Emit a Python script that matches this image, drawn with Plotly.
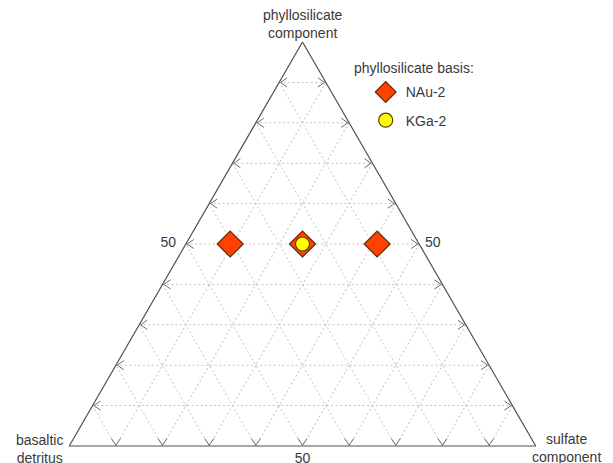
import numpy as np
import plotly.graph_objects as go

# ---- data ----
nau_phyllo = [50, 50, 50]
nau_basalt = [40.5, 25, 9]
nau_sulfate = [9.5, 25, 41]

kga_phyllo = [50]
kga_basalt = [25]
kga_sulfate = [25]

grid_vals = [10, 20, 30, 40, 50, 60, 70, 80, 90]
label_vals = [50]
tick_text = [str(v) if v in label_vals else "" for v in grid_vals]

# ---- arrowhead tick marks (built from grid values) ----
H = np.sqrt(3) / 2
L = 0.017
TH = np.radians(35)


def to_abc(x, y):
    a = y / H
    c = x - a / 2
    b = 1 - a - c
    return a * 100, b * 100, c * 100


ax_, bx_, cx_ = [], [], []


def add_path(pts):
    for (x, y) in pts:
        a, b, c = to_abc(x, y)
        ax_.append(a); bx_.append(b); cx_.append(c)
    ax_.append(None); bx_.append(None); cx_.append(None)


for v in grid_vals:
    k = v / 100
    # left edge "<"
    tx, ty = k / 2 + 0.003, k * H
    add_path([(tx + L * np.cos(TH), ty + L * np.sin(TH)), (tx, ty),
              (tx + L * np.cos(TH), ty - L * np.sin(TH))])
    # right edge ">"
    tx, ty = 1 - k / 2 - 0.003, k * H
    add_path([(tx - L * np.cos(TH), ty + L * np.sin(TH)), (tx, ty),
              (tx - L * np.cos(TH), ty - L * np.sin(TH))])
    # bottom "v"
    tx, ty = k, 0.002
    add_path([(tx - L * np.sin(TH), ty + L * np.cos(TH)), (tx, ty),
              (tx + L * np.sin(TH), ty + L * np.cos(TH))])

FONT = "Liberation Sans, Arial, sans-serif"
TXT = "#3a3a3a"

fig = go.Figure()
fig.add_trace(go.Scatterternary(
    a=ax_, b=bx_, c=cx_, mode="lines",
    line=dict(color="#6a6a6a", width=1), showlegend=False, hoverinfo="skip"))

fig.add_trace(go.Scatterternary(
    a=nau_phyllo, b=nau_basalt, c=nau_sulfate, mode="markers", name="NAu-2",
    legendgroup="g1",
    marker=dict(symbol="diamond", size=20, color="#ff4200",
                line=dict(color="#6a2808", width=1.2))))
fig.add_trace(go.Scatterternary(
    a=kga_phyllo, b=kga_basalt, c=kga_sulfate, mode="markers", name="KGa-2",
    legendgroup="g2",
    marker=dict(symbol="circle", size=14, color="#ffff00",
                line=dict(color="#5a3a00", width=1.2))))


def axis(ticklen, texts):
    return dict(
        min=0, tickvals=grid_vals, ticktext=texts,
        ticks="outside" if ticklen else "", ticklen=ticklen, tickcolor="rgba(0,0,0,0)",
        showgrid=True, gridcolor="#c4c4c4", griddash="2px,2.5px", gridwidth=1,
        linecolor="#505050", linewidth=1.2, showline=True,
        tickfont=dict(family=FONT, size=14, color=TXT), title=dict(text=""))


# page-pixel helpers (page is offset by the 8px body margin)
PL, PW, PB, PH = 69.3, 467.0, 446.0, 404.4


def px(x):
    return (x - PL) / PW


def py(y):
    return (PB - y) / PH


fig.update_layout(
    width=613, height=463,
    margin=dict(l=PL - 8, r=613 - (PL - 8) - PW, t=PB - PH - 8, b=463 - (PB - 8),
                autoexpand=False),
    paper_bgcolor="white",
    font=dict(family=FONT, size=14, color=TXT),
    ternary=dict(sum=100, bgcolor="white",
                 aaxis=axis(7, tick_text),
                 baxis=axis(0, tick_text),
                 caxis=axis(0, ["\u00a0" + t if t else "" for t in tick_text])),
    legend=dict(x=px(366), y=py(76),
                xanchor="left", yanchor="top", bgcolor="rgba(0,0,0,0)",
                font=dict(family=FONT, size=14, color=TXT),
                tracegroupgap=7, itemsizing="trace"),
    annotations=[
        dict(text="phyllosilicate<br>component", x=px(303), y=py(23.5),
             xref="paper", yref="paper", showarrow=False, xanchor="center", yanchor="middle",
             align="center"),
        dict(text="basaltic<br>detritus", x=px(40), y=py(449),
             xref="paper", yref="paper", showarrow=False, xanchor="center", yanchor="middle",
             align="center"),
        dict(text="sulfate<br>component", x=px(567), y=py(448),
             xref="paper", yref="paper", showarrow=False, xanchor="center", yanchor="middle",
             align="center"),
        dict(text="phyllosilicate basis:", x=px(414), y=py(68),
             xref="paper", yref="paper", showarrow=False, xanchor="center", yanchor="middle"),
    ],
)

fig.write_html("out.html")
